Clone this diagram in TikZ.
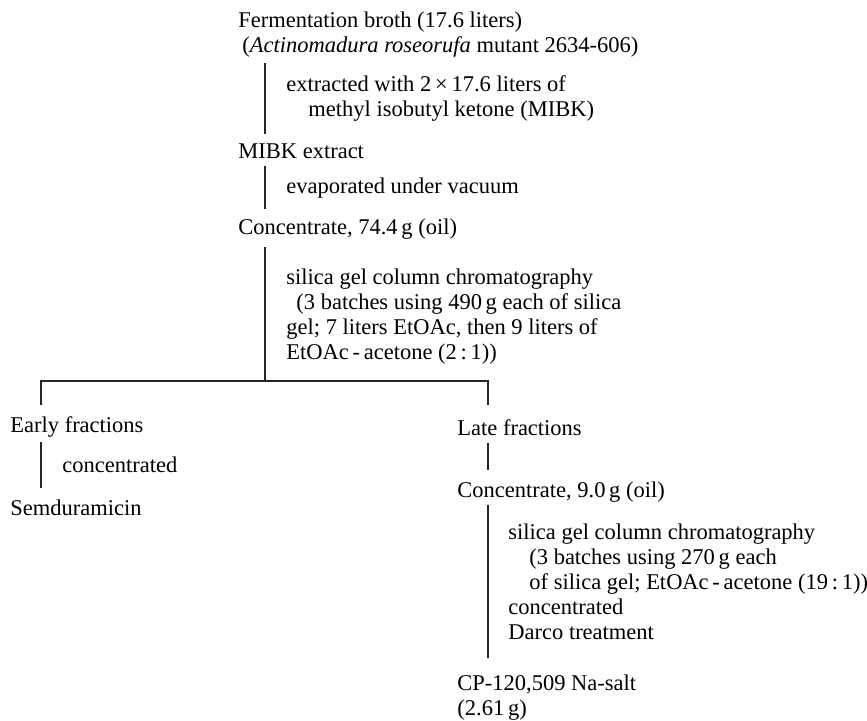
\documentclass[tikz,border=0pt]{standalone}
\usepackage{fontspec}
\setmainfont{Liberation Serif}

\begin{document}
\begin{tikzpicture}
    [x=0.5pt,y=-0.5pt,
     textstyle/.style={anchor=west,inner sep=0pt,font=\fontsize{11.25}{12.5}\selectfont},
     blockstyle/.style={textstyle,align=left},
     linestyle/.style={draw=black!85,line width=0.8pt}]

    \useasboundingbox (0,0) rectangle (867,721);

    % upper chain
    \node[textstyle] (ferm) at (238,22) {Fermentation broth (17.6 liters)};
    \node[textstyle] (strain) at (242,47) {(\textit{Actinomadura roseorufa} mutant 2634-606)};
    \node[blockstyle] (extr) at (286,98.5) {extracted with 2\,×\,17.6 liters of\\\hspace*{11pt}methyl isobutyl ketone (MIBK)};
    \node[textstyle] (mibk) at (238,151) {MIBK extract};
    \node[textstyle] (evap) at (286,188) {evaporated under vacuum};
    \node[textstyle] (conc1) at (238,229) {Concentrate, 74.4\,g (oil)};
    \node[blockstyle] (chrom1) at (286,316.5) {silica gel column chromatography\\\hspace*{5pt}(3 batches using 490\,g each of silica\\gel; 7 liters EtOAc, then 9 liters of\\EtOAc\,-\,acetone (2\,:\,1))};

    % left branch
    \node[textstyle] (early) at (10,427) {Early fractions};
    \node[textstyle] (conc2) at (62,465) {concentrated};
    \node[textstyle] (semd) at (10,508) {Semduramicin};

    % right branch
    \node[textstyle] (late) at (457,428) {Late fractions};
    \node[textstyle] (conc3) at (457,492) {Concentrate, 9.0\,g (oil)};
    \node[blockstyle] (chrom2) at (508,582) {silica gel column chromatography\\\hspace*{10.5pt}(3 batches using 270\,g each\\\hspace*{10.5pt}of silica gel; EtOAc\,-\,acetone (19\,:\,1))\\concentrated\\Darco treatment};
    \node[blockstyle] (salt) at (457,697.5) {CP-120,509 Na-salt\\(2.61\,g)};

    % line ends
    \coordinate (v1a) at (265,63);  \coordinate (v1b) at (265,134);
    \coordinate (v2a) at (265,166); \coordinate (v2b) at (265,209);
    \coordinate (v3a) at (265,247); \coordinate (split) at (265,381);
    \coordinate (ldrop) at (41,405); \coordinate (rdrop) at (488,405);
    \coordinate (v4a) at (41,442);  \coordinate (v4b) at (41,488);
    \coordinate (v5a) at (488,443); \coordinate (v5b) at (488,470);
    \coordinate (v6a) at (488,505); \coordinate (v6b) at (488,658);

    \draw[linestyle] (v1a) -- (v1b);
    \draw[linestyle] (v2a) -- (v2b);
    \draw[linestyle] (v3a) -- (split);
    \draw[linestyle] (ldrop) |- (split) -| (rdrop);
    \draw[linestyle] (v4a) -- (v4b);
    \draw[linestyle] (v5a) -- (v5b);
    \draw[linestyle] (v6a) -- (v6b);
\end{tikzpicture}
\end{document}
